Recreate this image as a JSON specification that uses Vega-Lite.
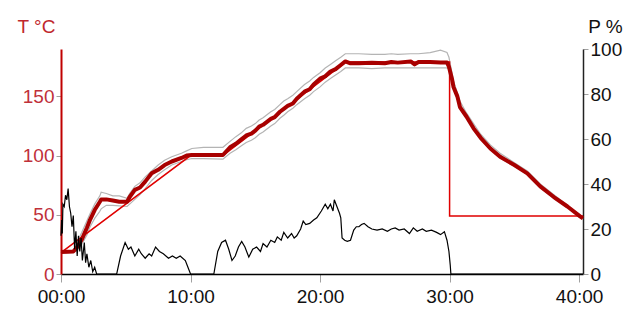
{
  "$schema": "https://vega.github.io/schema/vega-lite/v6.json",
  "autosize": "none",
  "width": 522,
  "height": 225,
  "padding": {"left": 61, "top": 49, "right": 44, "bottom": 36},
  "background": "white",
  "config": {
    "view": {"stroke": null},
    "font": "Liberation Sans",
    "axis": {"grid": false, "labelFont": "Liberation Sans", "titleFont": "Liberation Sans", "labelFontSize": 19, "titleFontSize": 19, "titleFontWeight": "normal", "tickColor": "#a0a0a0", "tickSize": 5, "labelPadding": 2}
  },
  "datasets": {
    "temp": [
      {"t": 0, "avg": 18.5, "hi": 19, "lo": 18},
      {"t": 0.5, "avg": 18.8, "hi": 19.5, "lo": 18},
      {"t": 0.95, "avg": 19, "hi": 20, "lo": 18.5},
      {"t": 1.2, "avg": 22, "hi": 26, "lo": 19.5},
      {"t": 1.6, "avg": 29, "hi": 35, "lo": 25},
      {"t": 2.0, "avg": 39, "hi": 45, "lo": 33},
      {"t": 2.25, "avg": 46, "hi": 51, "lo": 40},
      {"t": 2.6, "avg": 54, "hi": 59, "lo": 47},
      {"t": 3.0, "avg": 61, "hi": 66, "lo": 53},
      {"t": 3.1, "avg": 63, "hi": 69, "lo": 55},
      {"t": 3.5, "avg": 63, "hi": 68, "lo": 58},
      {"t": 4.0, "avg": 62, "hi": 66, "lo": 58},
      {"t": 4.5, "avg": 61, "hi": 66, "lo": 57.5},
      {"t": 5.1, "avg": 61, "hi": 64, "lo": 57},
      {"t": 5.3, "avg": 65, "hi": 68, "lo": 59},
      {"t": 5.7, "avg": 71, "hi": 74, "lo": 63},
      {"t": 6.1, "avg": 73, "hi": 77, "lo": 67},
      {"t": 6.5, "avg": 78, "hi": 82, "lo": 72},
      {"t": 7.0, "avg": 85, "hi": 87, "lo": 79},
      {"t": 7.5, "avg": 88, "hi": 92, "lo": 84},
      {"t": 8.0, "avg": 92, "hi": 96, "lo": 88},
      {"t": 8.55, "avg": 95, "hi": 99, "lo": 92},
      {"t": 9.3, "avg": 98, "hi": 102, "lo": 95},
      {"t": 9.7, "avg": 100, "hi": 104, "lo": 96.5},
      {"t": 10.1, "avg": 100.5, "hi": 106, "lo": 97.5},
      {"t": 11.0, "avg": 100.5, "hi": 107, "lo": 97.5},
      {"t": 12.5, "avg": 100.5, "hi": 107, "lo": 97},
      {"t": 13.05, "avg": 107, "hi": 112, "lo": 102},
      {"t": 13.5, "avg": 110, "hi": 116, "lo": 105},
      {"t": 13.9, "avg": 113.5, "hi": 119, "lo": 108},
      {"t": 14.3, "avg": 117, "hi": 123, "lo": 111},
      {"t": 14.7, "avg": 118.5, "hi": 125, "lo": 113},
      {"t": 15.0, "avg": 121, "hi": 127, "lo": 115},
      {"t": 15.3, "avg": 124.5, "hi": 130, "lo": 118},
      {"t": 15.6, "avg": 126, "hi": 132, "lo": 120},
      {"t": 16.2, "avg": 131, "hi": 137, "lo": 125},
      {"t": 16.5, "avg": 132.5, "hi": 139, "lo": 127},
      {"t": 16.9, "avg": 137, "hi": 143, "lo": 131.5},
      {"t": 17.2, "avg": 139.5, "hi": 146, "lo": 134},
      {"t": 17.5, "avg": 142, "hi": 148, "lo": 137},
      {"t": 17.9, "avg": 144, "hi": 151, "lo": 140},
      {"t": 18.2, "avg": 148, "hi": 154, "lo": 143},
      {"t": 18.8, "avg": 154, "hi": 160, "lo": 148},
      {"t": 19.2, "avg": 156, "hi": 163, "lo": 151},
      {"t": 19.5, "avg": 160, "hi": 166, "lo": 154},
      {"t": 20.0, "avg": 165, "hi": 170, "lo": 158},
      {"t": 20.4, "avg": 167, "hi": 174, "lo": 162},
      {"t": 20.8, "avg": 171, "hi": 177, "lo": 165},
      {"t": 21.2, "avg": 173, "hi": 180, "lo": 168},
      {"t": 21.6, "avg": 176.5, "hi": 183, "lo": 171},
      {"t": 21.95, "avg": 179.5, "hi": 186, "lo": 174},
      {"t": 22.3, "avg": 178, "hi": 186, "lo": 174},
      {"t": 23.0, "avg": 178, "hi": 186, "lo": 174},
      {"t": 24.0, "avg": 178.3, "hi": 185.5, "lo": 173.5},
      {"t": 25.0, "avg": 178, "hi": 185.5, "lo": 174},
      {"t": 25.5, "avg": 179, "hi": 186, "lo": 174},
      {"t": 26.0, "avg": 178.5, "hi": 185.5, "lo": 174},
      {"t": 27.0, "avg": 179.5, "hi": 186, "lo": 174},
      {"t": 27.3, "avg": 177, "hi": 186, "lo": 174},
      {"t": 27.6, "avg": 179, "hi": 186, "lo": 174},
      {"t": 28.5, "avg": 179, "hi": 187, "lo": 174},
      {"t": 29.3, "avg": 178.5, "hi": 189, "lo": 174},
      {"t": 29.8, "avg": 178.5, "hi": 187, "lo": 174},
      {"t": 29.95, "avg": 175, "hi": 183, "lo": 173},
      {"t": 30.2, "avg": 164, "hi": 169, "lo": 162},
      {"t": 30.3, "avg": 158, "hi": 163, "lo": 157},
      {"t": 30.6, "avg": 150, "hi": 153, "lo": 148},
      {"t": 30.8, "avg": 141, "hi": 146, "lo": 140},
      {"t": 31.3, "avg": 133, "hi": 136, "lo": 132},
      {"t": 31.85, "avg": 123, "hi": 127, "lo": 122},
      {"t": 32.4, "avg": 115, "hi": 118, "lo": 114},
      {"t": 33.15, "avg": 106, "hi": 109, "lo": 105},
      {"t": 33.9, "avg": 99, "hi": 102, "lo": 98},
      {"t": 35.0, "avg": 92, "hi": 94, "lo": 91},
      {"t": 36.0, "avg": 85, "hi": 87, "lo": 84},
      {"t": 37.0, "avg": 74, "hi": 76, "lo": 73},
      {"t": 38.05, "avg": 65, "hi": 67, "lo": 64},
      {"t": 39.1, "avg": 57, "hi": 58, "lo": 56},
      {"t": 40.1, "avg": 48.5, "hi": 49, "lo": 48},
      {"t": 40.3, "avg": 47, "hi": 48, "lo": 46.5}
    ],
    "setpoint": [
      {"i": 0, "t": 0, "sp": 18},
      {"i": 1, "t": 10, "sp": 100},
      {"i": 2, "t": 12.5, "sp": 100},
      {"i": 3, "t": 22, "sp": 179},
      {"i": 4, "t": 30, "sp": 179},
      {"i": 5, "t": 30, "sp": 49},
      {"i": 6, "t": 40.3, "sp": 49}
    ],
    "power": [
      {"t": 0.0, "p": 17}, {"t": 0.05, "p": 24}, {"t": 0.1, "p": 18}, {"t": 0.15, "p": 31},
      {"t": 0.25, "p": 30}, {"t": 0.35, "p": 35}, {"t": 0.45, "p": 33}, {"t": 0.55, "p": 38},
      {"t": 0.65, "p": 30}, {"t": 0.75, "p": 27}, {"t": 0.85, "p": 21}, {"t": 0.95, "p": 26},
      {"t": 1.05, "p": 11}, {"t": 1.15, "p": 19}, {"t": 1.25, "p": 8}, {"t": 1.35, "p": 17},
      {"t": 1.45, "p": 10}, {"t": 1.55, "p": 16}, {"t": 1.65, "p": 6}, {"t": 1.8, "p": 14},
      {"t": 1.9, "p": 5}, {"t": 2.0, "p": 9}, {"t": 2.15, "p": 3}, {"t": 2.3, "p": 6},
      {"t": 2.45, "p": 1}, {"t": 2.6, "p": 3}, {"t": 2.75, "p": 0}, {"t": 4.3, "p": 0},
      {"t": 4.6, "p": 8}, {"t": 4.95, "p": 14}, {"t": 5.2, "p": 11}, {"t": 5.4, "p": 12},
      {"t": 5.7, "p": 8}, {"t": 6.0, "p": 11}, {"t": 6.2, "p": 9}, {"t": 6.5, "p": 7},
      {"t": 6.8, "p": 9}, {"t": 7.0, "p": 8}, {"t": 7.3, "p": 12}, {"t": 7.6, "p": 10},
      {"t": 7.9, "p": 9}, {"t": 8.3, "p": 7}, {"t": 8.6, "p": 8}, {"t": 8.9, "p": 7},
      {"t": 9.2, "p": 8}, {"t": 9.6, "p": 6}, {"t": 9.8, "p": 3}, {"t": 10.0, "p": 0},
      {"t": 11.8, "p": 0}, {"t": 12.1, "p": 10}, {"t": 12.4, "p": 14}, {"t": 12.7, "p": 15},
      {"t": 12.95, "p": 11}, {"t": 13.2, "p": 6}, {"t": 13.45, "p": 8}, {"t": 13.7, "p": 12},
      {"t": 13.95, "p": 14.5}, {"t": 14.2, "p": 12}, {"t": 14.5, "p": 7.5}, {"t": 14.8, "p": 11},
      {"t": 15.1, "p": 12}, {"t": 15.4, "p": 10}, {"t": 15.6, "p": 13.5}, {"t": 15.9, "p": 12},
      {"t": 16.2, "p": 15}, {"t": 16.5, "p": 14}, {"t": 16.7, "p": 16.5}, {"t": 17.0, "p": 15},
      {"t": 17.2, "p": 18.5}, {"t": 17.5, "p": 16}, {"t": 17.8, "p": 18}, {"t": 18.0, "p": 16},
      {"t": 18.2, "p": 17}, {"t": 18.5, "p": 20}, {"t": 18.7, "p": 23.5}, {"t": 18.9, "p": 22},
      {"t": 19.2, "p": 22.5}, {"t": 19.5, "p": 24}, {"t": 19.75, "p": 25}, {"t": 20.1, "p": 28},
      {"t": 20.4, "p": 31}, {"t": 20.6, "p": 29}, {"t": 20.8, "p": 31}, {"t": 21.0, "p": 28},
      {"t": 21.1, "p": 33}, {"t": 21.3, "p": 30}, {"t": 21.5, "p": 27}, {"t": 21.6, "p": 25},
      {"t": 21.7, "p": 16}, {"t": 21.9, "p": 15}, {"t": 22.1, "p": 14.5}, {"t": 22.35, "p": 15},
      {"t": 22.6, "p": 19.5}, {"t": 22.8, "p": 21}, {"t": 23.0, "p": 21}, {"t": 23.2, "p": 22},
      {"t": 23.4, "p": 22.5}, {"t": 23.7, "p": 21}, {"t": 24.0, "p": 20}, {"t": 24.4, "p": 19.5},
      {"t": 24.8, "p": 20}, {"t": 25.2, "p": 19}, {"t": 25.5, "p": 20}, {"t": 25.8, "p": 20.5},
      {"t": 26.1, "p": 19.5}, {"t": 26.5, "p": 20}, {"t": 26.9, "p": 18}, {"t": 27.2, "p": 20.5},
      {"t": 27.5, "p": 19}, {"t": 27.9, "p": 20}, {"t": 28.2, "p": 19}, {"t": 28.6, "p": 19.5},
      {"t": 29.0, "p": 18.5}, {"t": 29.3, "p": 17.5}, {"t": 29.6, "p": 18.8}, {"t": 29.8, "p": 15},
      {"t": 29.95, "p": 10}, {"t": 30.05, "p": 4}, {"t": 30.1, "p": 0}, {"t": 40.3, "p": 0}
    ]
  },
  "layer": [
    {
      "layer": [
        {
          "data": {"name": "temp"},
          "mark": {"type": "line", "color": "#b4b4b4", "strokeWidth": 1.2},
          "encoding": {
            "x": {"field": "t", "type": "quantitative", "scale": {"domain": [0, 40.3], "nice": false, "zero": false},
              "axis": {"values": [0, 10, 20, 30, 40], "labelExpr": "(datum.value < 10 ? '0' : '') + datum.value + ':00'", "title": null, "domainColor": "#000000", "domainWidth": 1.5, "tickSize": 8, "labelPadding": 5, "labelColor": "#111111", "labelFlush": false}},
            "y": {"field": "hi", "type": "quantitative", "scale": {"domain": [0, 190], "nice": false},
              "axis": {"values": [0, 50, 100, 150], "title": "T °C", "titleAngle": 0, "titleAlign": "center", "titleBaseline": "alphabetic", "titleX": -25, "titleY": -17, "titleColor": "#c0282d", "labelColor": "#c0303a", "domainColor": "#c00000", "domainWidth": 2}}
          }
        },
        {
          "data": {"name": "temp"},
          "mark": {"type": "line", "color": "#b4b4b4", "strokeWidth": 1.2},
          "encoding": {
            "x": {"field": "t", "type": "quantitative"},
            "y": {"field": "lo", "type": "quantitative"}
          }
        },
        {
          "data": {"name": "setpoint"},
          "mark": {"type": "line", "color": "#e00000", "strokeWidth": 1.5},
          "encoding": {
            "x": {"field": "t", "type": "quantitative"},
            "y": {"field": "sp", "type": "quantitative"},
            "order": {"field": "i", "type": "quantitative"}
          }
        },
        {
          "data": {"name": "temp"},
          "mark": {"type": "line", "color": "#a80000", "strokeWidth": 4, "strokeJoin": "round"},
          "encoding": {
            "x": {"field": "t", "type": "quantitative"},
            "y": {"field": "avg", "type": "quantitative"}
          }
        }
      ]
    },
    {
      "data": {"name": "power"},
      "mark": {"type": "line", "color": "#000000", "strokeWidth": 1.2},
      "encoding": {
        "x": {"field": "t", "type": "quantitative"},
        "y": {"field": "p", "type": "quantitative", "scale": {"domain": [0, 100], "nice": false},
          "axis": {"orient": "right", "values": [0, 20, 40, 60, 80, 100], "title": "P %", "titleAngle": 0, "titleAlign": "center", "titleBaseline": "alphabetic", "titleX": 22, "titleY": -17, "titleColor": "#111111", "labelColor": "#111111", "domainColor": "#222222", "domainWidth": 1.5}}
      }
    }
  ],
  "resolve": {"scale": {"y": "independent"}}
}
